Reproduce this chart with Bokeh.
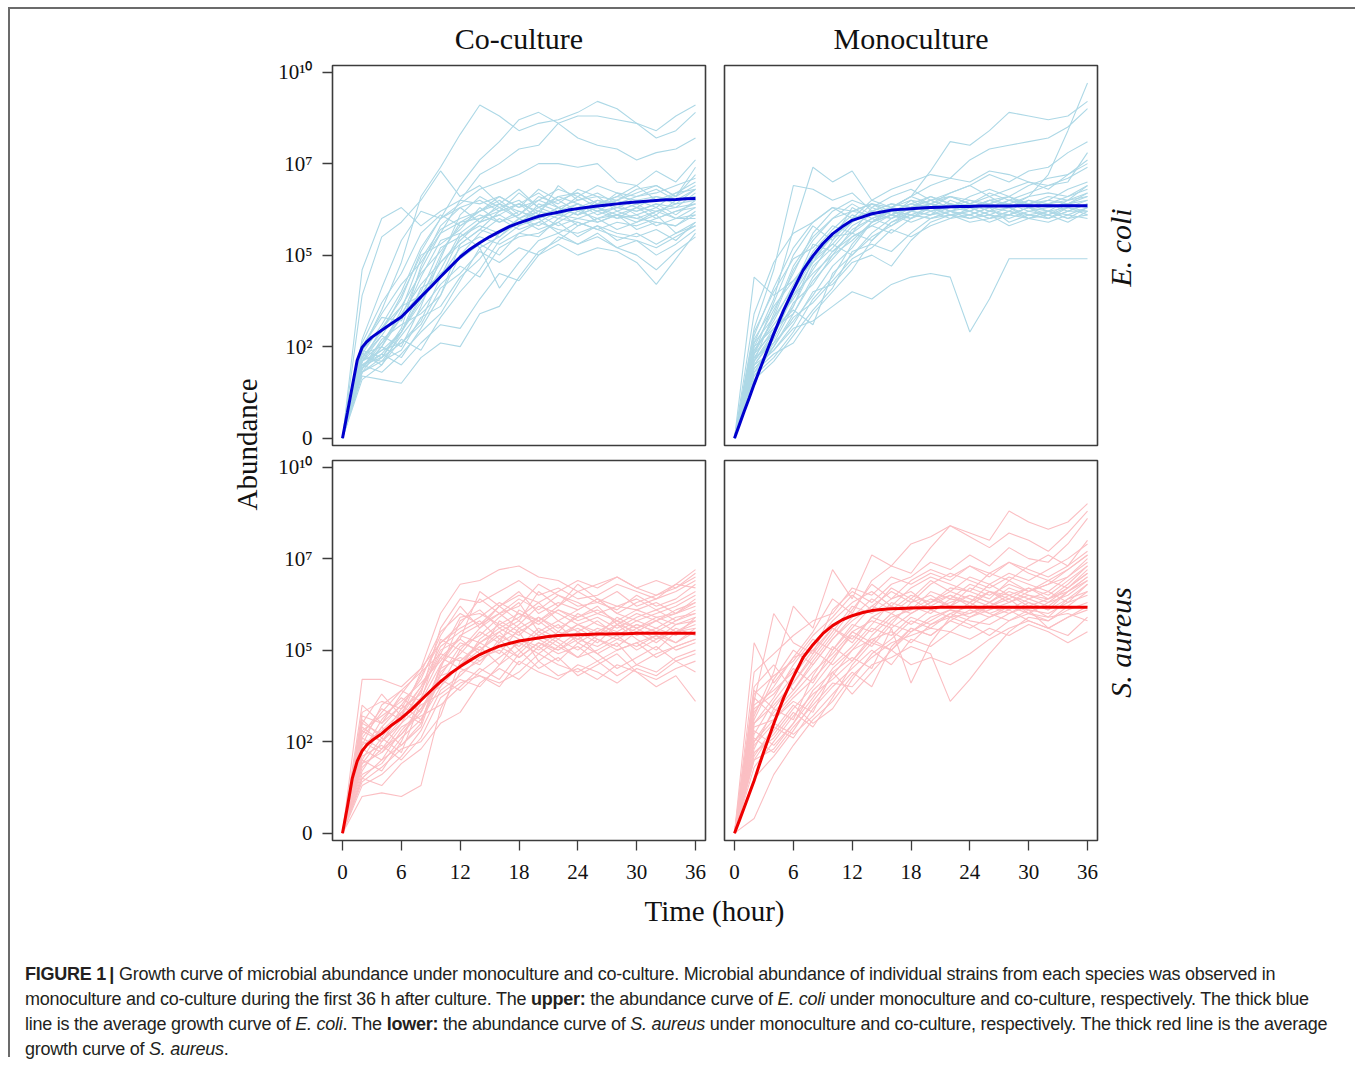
import math
from bokeh.plotting import figure
from bokeh.models import Range1d, FixedTicker, Div
from bokeh.layouts import row, column
from bokeh.embed import file_html
from bokeh.resources import INLINE
from bokeh.core.properties import value

# ---------------- data (log10 abundance units) ----------------
HOURS = [0, 2, 4, 6, 8, 10, 12, 14, 16, 18, 20, 22, 24, 26, 28, 30, 32, 34, 36]
MEAN_HOURS = [0, 0.5, 1, 1.5, 2, 2.5, 3, 4, 5, 6, 7, 8, 9, 10, 11, 12, 13, 14, 15, 16,
              17, 18, 19, 20, 21, 22, 23, 24, 25, 26, 27, 28, 29, 30, 31, 32, 33, 34, 35, 36]

Y_TICKS = [0, 2.5, 5, 7.5, 10]
Y_LABELS = ["0", "10\u00b2", "10\u2075", "10\u2077", "10\u00b9\u2070"]
X_TICKS = [0, 6, 12, 18, 24, 30, 36]

COLUMN_TITLES = ["Co-culture", "Monoculture"]
ROW_TITLES = ["E. coli", "S. aureus"]

ECOLI_CO_MEAN = [0, 0.70, 1.42, 2.13, 2.48, 2.64, 2.76, 2.95, 3.13, 3.31, 3.58, 3.86, 4.13, 4.41,
                 4.68, 4.95, 5.16, 5.34, 5.50, 5.64, 5.78, 5.88, 5.97, 6.06, 6.12, 6.17, 6.23,
                 6.27, 6.31, 6.34, 6.37, 6.40, 6.43, 6.45, 6.47, 6.49, 6.51, 6.52, 6.54, 6.55]
ECOLI_MONO_MEAN = [0, 0.37, 0.74, 1.10, 1.47, 1.82, 2.17, 2.85, 3.49, 4.05, 4.59, 4.98, 5.31,
                   5.58, 5.78, 5.95, 6.04, 6.13, 6.18, 6.23, 6.25, 6.27, 6.29, 6.30, 6.31, 6.32,
                   6.33, 6.33, 6.34, 6.34, 6.34, 6.34, 6.35, 6.35, 6.35, 6.35, 6.35, 6.35, 6.35, 6.35]
SAUREUS_CO_MEAN = [0, 0.72, 1.50, 1.97, 2.25, 2.42, 2.53, 2.72, 2.95, 3.14, 3.37, 3.63, 3.89,
                   4.14, 4.36, 4.55, 4.72, 4.88, 5.00, 5.11, 5.18, 5.25, 5.29, 5.33, 5.37, 5.40,
                   5.41, 5.42, 5.43, 5.44, 5.44, 5.45, 5.45, 5.46, 5.46, 5.46, 5.46, 5.46, 5.46, 5.46]
SAUREUS_MONO_MEAN = [0, 0.35, 0.71, 1.07, 1.43, 1.84, 2.24, 2.99, 3.69, 4.27, 4.80, 5.15, 5.45,
                     5.67, 5.83, 5.94, 6.02, 6.08, 6.11, 6.13, 6.14, 6.15, 6.16, 6.16, 6.17, 6.17,
                     6.17, 6.17, 6.17, 6.17, 6.17, 6.17, 6.17, 6.17, 6.17, 6.17, 6.17, 6.17, 6.17, 6.17]

ECOLI_CO = [
    [0, 4.6, 6.0, 6.3, 5.8, 6.2, 6.5, 6.4, 6.6, 6.3, 6.8, 6.5, 6.7, 6.4, 6.6, 6.9, 6.5, 6.7, 6.8],
    [0, 2.4, 3.5, 4.8, 6.6, 7.4, 8.3, 9.1, 8.8, 8.4, 8.6, 8.7, 8.9, 9.2, 9.0, 8.6, 8.4, 8.8, 9.1],
    [0, 2.1, 3.0, 3.8, 5.1, 6.0, 6.9, 7.6, 8.1, 8.7, 8.9, 8.6, 8.8, 8.8, 8.7, 8.6, 8.2, 8.4, 8.9],
    [0, 1.9, 2.6, 3.3, 4.6, 5.6, 6.5, 7.2, 7.5, 7.9, 8.0, 8.6, 8.2, 8.0, 7.9, 7.6, 7.8, 7.9, 8.2],
    [0, 2.3, 3.1, 4.0, 5.2, 6.0, 6.4, 6.8, 7.0, 7.2, 7.5, 7.5, 7.4, 7.5, 7.0, 6.9, 7.3, 7.0, 7.6],
    [0, 2.0, 2.4, 2.9, 3.8, 5.0, 5.9, 6.2, 6.5, 6.1, 6.6, 6.4, 6.8, 6.6, 6.5, 6.7, 6.9, 6.6, 7.4],
    [0, 2.5, 3.3, 3.2, 4.4, 5.4, 5.6, 6.0, 6.2, 6.7, 6.3, 6.5, 6.2, 6.4, 6.6, 6.5, 6.3, 6.7, 7.0],
    [0, 1.8, 2.2, 2.6, 3.2, 4.4, 5.5, 5.9, 6.4, 6.0, 6.3, 6.1, 6.4, 6.2, 6.5, 6.3, 6.6, 6.4, 6.8],
    [0, 2.2, 2.8, 2.5, 3.6, 4.9, 6.1, 6.6, 6.3, 6.5, 6.1, 6.9, 6.5, 6.6, 6.2, 6.4, 6.1, 6.5, 6.6],
    [0, 2.0, 1.8, 2.3, 2.9, 3.4, 4.3, 5.2, 5.5, 5.9, 6.2, 6.0, 6.3, 5.9, 6.1, 6.0, 5.9, 5.8, 6.2],
    [0, 2.6, 3.7, 4.5, 5.6, 6.1, 5.8, 6.2, 6.4, 6.2, 6.0, 6.3, 6.1, 6.5, 6.3, 6.2, 6.4, 6.1, 6.5],
    [0, 1.9, 2.5, 2.2, 3.0, 3.9, 5.0, 5.6, 6.0, 5.7, 5.9, 6.2, 5.8, 6.0, 5.7, 5.9, 6.1, 5.6, 5.9],
    [0, 2.3, 2.0, 2.7, 2.4, 3.3, 4.0, 4.6, 5.4, 5.8, 6.0, 5.6, 5.9, 5.7, 5.5, 5.4, 5.2, 5.5, 5.8],
    [0, 1.7, 1.6, 1.5, 2.2, 2.6, 2.5, 3.4, 3.6, 4.4, 5.1, 5.4, 5.8, 6.0, 6.1, 5.9, 6.2, 6.0, 6.1],
    [0, 1.9, 2.3, 2.0, 2.6, 3.1, 3.0, 3.8, 4.5, 4.3, 5.0, 5.3, 5.0, 5.2, 5.1, 4.8, 4.2, 4.9, 5.6],
    [0, 2.1, 2.6, 3.4, 4.2, 4.8, 5.4, 5.9, 6.1, 5.8, 6.4, 6.2, 6.6, 6.3, 6.7, 6.4, 6.5, 6.6, 6.9],
    [0, 2.4, 3.0, 3.6, 3.9, 4.5, 4.9, 5.3, 5.0, 5.6, 5.5, 6.0, 5.9, 5.7, 5.9, 5.8, 6.0, 6.2, 6.3],
    [0, 2.0, 2.2, 3.0, 4.7, 5.8, 6.3, 5.9, 6.1, 6.4, 6.2, 6.6, 6.4, 6.1, 6.3, 6.2, 6.4, 6.3, 6.7],
    [0, 2.2, 2.9, 3.9, 5.0, 5.3, 5.7, 6.3, 5.9, 6.1, 6.5, 6.3, 6.1, 6.3, 6.0, 6.3, 6.0, 6.2, 6.4],
    [0, 1.8, 2.1, 2.8, 3.5, 4.2, 4.7, 4.4, 5.2, 5.5, 5.6, 5.9, 5.5, 5.8, 5.6, 5.5, 5.7, 5.4, 5.9],
    [0, 2.7, 4.1, 5.4, 6.2, 6.0, 6.3, 6.5, 6.2, 6.4, 6.7, 6.3, 6.5, 6.7, 6.4, 6.6, 6.8, 6.5, 6.6],
    [0, 2.1, 2.4, 2.6, 3.1, 4.1, 4.5, 5.1, 4.8, 5.2, 5.0, 5.5, 5.3, 5.6, 5.2, 5.4, 5.0, 5.3, 5.7],
    [0, 1.9, 2.7, 3.1, 3.4, 3.9, 5.3, 5.7, 5.5, 6.0, 5.8, 6.1, 6.0, 6.2, 6.0, 6.1, 5.8, 6.0, 6.0],
    [0, 2.3, 2.5, 3.5, 4.9, 5.7, 6.0, 6.2, 6.6, 6.3, 6.5, 6.8, 6.6, 6.9, 6.7, 6.6, 6.7, 6.9, 7.1],
    [0, 2.0, 2.3, 2.9, 3.7, 4.6, 5.6, 5.2, 4.1, 4.8, 5.4, 5.6, 5.3, 5.5, 5.2, 5.0, 4.6, 5.1, 5.5],
    [0, 2.2, 2.1, 2.4, 3.3, 3.6, 4.4, 4.9, 5.6, 6.0, 5.7, 5.9, 6.2, 6.0, 6.2, 6.0, 6.2, 6.3, 6.4],
    [0, 2.5, 3.4, 4.2, 4.8, 5.6, 5.9, 6.0, 6.3, 6.0, 6.2, 6.1, 6.3, 6.5, 6.4, 6.1, 6.3, 6.0, 6.3],
    [0, 1.8, 2.5, 3.3, 4.0, 5.2, 5.5, 5.8, 5.6, 5.9, 6.1, 5.8, 6.0, 5.9, 6.1, 5.7, 5.9, 5.8, 6.1],
    [0, 2.1, 2.8, 3.6, 4.5, 5.1, 5.8, 6.1, 5.9, 6.2, 6.0, 6.2, 6.4, 6.2, 6.3, 6.5, 6.6, 6.5, 6.8],
    [0, 2.4, 2.2, 2.9, 4.1, 4.4, 5.2, 5.5, 5.3, 5.6, 5.9, 5.7, 5.6, 5.8, 5.4, 5.6, 5.3, 5.6, 5.8],
    [0, 3.9, 5.5, 5.9, 6.5, 7.3, 6.6, 6.9, 6.4, 6.8, 6.3, 6.6, 6.7, 6.4, 6.5, 6.8, 6.9, 6.6, 7.2],
    [0, 1.6, 2.0, 2.9, 3.9, 4.8, 5.3, 5.7, 6.2, 6.4, 6.0, 6.3, 6.1, 6.3, 6.1, 6.3, 6.2, 6.4, 6.5],
]

ECOLI_MONO = [
    [0, 3.0, 4.6, 6.9, 6.8, 6.5, 6.7, 6.2, 6.4, 6.3, 6.6, 6.4, 6.2, 6.5, 6.3, 6.4, 6.2, 6.5, 6.6],
    [0, 2.6, 3.8, 5.7, 7.4, 7.0, 7.3, 6.5, 6.3, 6.6, 6.4, 6.6, 6.5, 6.4, 6.6, 6.3, 6.5, 6.4, 6.7],
    [0, 2.3, 3.3, 4.6, 5.4, 6.0, 6.2, 6.4, 6.3, 6.6, 7.3, 8.1, 8.0, 8.4, 8.9, 8.8, 8.7, 8.8, 9.2],
    [0, 2.1, 2.8, 3.9, 4.8, 5.6, 6.1, 5.9, 6.2, 6.4, 6.3, 6.1, 6.2, 6.4, 6.3, 6.6, 7.2, 8.4, 9.7],
    [0, 2.8, 4.1, 5.2, 5.9, 6.3, 6.0, 6.5, 6.8, 7.0, 7.2, 7.1, 7.6, 7.9, 8.0, 8.1, 8.2, 8.5, 9.0],
    [0, 1.9, 2.5, 3.4, 4.4, 5.1, 5.5, 5.8, 6.1, 6.0, 6.4, 6.7, 6.9, 7.2, 7.0, 7.3, 7.4, 7.8, 8.1],
    [0, 2.0, 2.4, 3.0, 3.2, 3.6, 4.0, 3.8, 4.2, 4.4, 4.5, 4.4, 2.9, 3.8, 4.9, 4.9, 4.9, 4.9, 4.9],
    [0, 2.4, 3.2, 4.2, 5.1, 5.7, 6.2, 6.1, 6.3, 6.2, 6.4, 6.3, 6.5, 6.3, 6.4, 6.2, 6.3, 6.4, 6.5],
    [0, 1.7, 2.2, 2.9, 3.8, 4.4, 5.3, 5.9, 6.1, 6.3, 6.2, 6.4, 6.3, 6.5, 6.6, 6.4, 6.5, 6.8, 7.0],
    [0, 2.2, 3.0, 3.5, 3.1, 4.5, 5.0, 5.6, 6.0, 6.3, 6.4, 6.2, 6.1, 6.3, 6.2, 6.5, 6.3, 6.4, 6.3],
    [0, 3.4, 4.8, 5.6, 5.9, 6.3, 6.2, 6.4, 6.1, 6.3, 6.5, 6.3, 6.4, 6.2, 6.1, 6.3, 6.4, 6.2, 6.4],
    [0, 2.0, 2.7, 3.7, 4.2, 5.0, 5.7, 6.0, 5.8, 6.1, 6.0, 6.2, 6.0, 6.1, 5.8, 6.0, 6.1, 5.9, 6.2],
    [0, 2.5, 3.5, 4.5, 5.6, 6.2, 6.5, 6.3, 6.6, 6.8, 6.5, 6.7, 6.9, 6.6, 6.8, 7.0, 6.9, 7.1, 7.4],
    [0, 1.8, 2.3, 2.6, 3.4, 4.0, 4.6, 5.4, 5.9, 6.2, 6.1, 6.3, 6.2, 6.0, 6.2, 6.1, 6.2, 6.3, 6.2],
    [0, 2.9, 4.0, 4.9, 5.2, 5.8, 5.6, 6.0, 6.2, 6.1, 6.3, 6.6, 6.4, 6.2, 6.5, 6.3, 6.1, 6.4, 6.6],
    [0, 2.3, 2.9, 3.6, 4.9, 5.3, 5.0, 5.5, 5.8, 6.2, 6.4, 6.2, 6.3, 6.1, 6.3, 6.0, 6.2, 6.1, 6.3],
    [0, 2.1, 3.4, 4.7, 5.5, 6.0, 6.4, 6.1, 6.3, 6.5, 6.2, 6.3, 6.6, 6.8, 6.6, 6.9, 7.1, 7.2, 7.6],
    [0, 1.6, 2.1, 2.8, 3.5, 4.1, 5.1, 5.3, 5.1, 5.6, 6.0, 6.1, 5.9, 6.0, 6.2, 6.0, 5.9, 6.1, 6.0],
    [0, 2.7, 3.6, 4.3, 5.0, 5.5, 5.9, 6.4, 6.2, 6.4, 6.6, 6.4, 6.3, 6.5, 6.4, 6.6, 6.7, 6.6, 6.9],
    [0, 2.2, 2.6, 3.2, 3.9, 4.7, 5.2, 5.9, 6.1, 5.9, 6.1, 6.2, 6.0, 6.2, 6.3, 6.1, 6.0, 6.3, 6.1],
    [0, 4.4, 3.9, 4.3, 4.8, 5.3, 5.9, 6.2, 6.0, 6.3, 6.5, 6.3, 6.4, 6.6, 6.3, 6.5, 6.4, 6.6, 6.8],
    [0, 1.9, 2.4, 3.1, 4.0, 4.2, 4.8, 5.0, 4.7, 5.4, 5.9, 6.1, 6.0, 6.2, 6.1, 6.3, 6.2, 6.0, 6.3],
    [0, 2.4, 3.1, 3.8, 4.6, 5.4, 6.0, 6.2, 6.4, 6.3, 6.5, 6.6, 6.4, 6.7, 6.5, 6.7, 6.9, 7.0, 7.8],
    [0, 2.0, 2.8, 4.0, 4.9, 5.5, 5.6, 5.4, 5.9, 6.1, 6.0, 6.2, 6.1, 6.3, 5.9, 6.1, 6.0, 6.2, 6.4],
    [0, 2.6, 3.3, 4.1, 5.3, 5.1, 5.6, 6.3, 6.1, 6.5, 6.4, 6.2, 6.4, 6.3, 6.5, 6.4, 6.6, 6.5, 6.7],
    [0, 1.7, 2.5, 3.3, 3.7, 4.3, 4.9, 5.2, 5.7, 5.5, 5.8, 6.0, 6.3, 6.1, 6.0, 6.2, 6.1, 6.3, 6.5],
    [0, 2.3, 3.7, 5.0, 5.8, 5.4, 6.3, 6.0, 6.2, 6.0, 6.3, 6.1, 6.2, 6.0, 6.1, 6.3, 6.0, 6.2, 6.2],
    [0, 2.1, 2.9, 3.9, 4.5, 5.0, 5.4, 5.9, 6.3, 6.6, 6.9, 7.1, 7.0, 7.3, 7.2, 7.0, 6.8, 7.2, 7.5],
    [0, 2.5, 3.0, 3.4, 4.3, 4.9, 5.5, 5.8, 5.6, 6.0, 6.2, 6.0, 6.1, 5.9, 6.1, 6.0, 6.2, 6.0, 6.1],
    [0, 1.8, 2.6, 3.6, 4.7, 5.2, 5.8, 6.1, 6.0, 6.2, 6.1, 6.5, 6.3, 6.4, 6.6, 6.3, 6.4, 6.5, 6.9],
]

SAUREUS_CO = [
    [0, 4.2, 4.2, 4.0, 4.5, 5.2, 5.6, 5.9, 6.3, 6.0, 5.8, 6.1, 5.9, 6.2, 5.7, 6.0, 5.8, 6.1, 6.3],
    [0, 3.5, 3.0, 3.8, 4.5, 6.0, 6.8, 6.9, 7.2, 7.3, 7.0, 6.9, 6.6, 6.8, 7.0, 6.7, 6.5, 6.8, 7.2],
    [0, 1.0, 1.1, 1.0, 1.3, 3.4, 4.4, 4.7, 5.1, 4.8, 5.2, 5.0, 5.3, 5.1, 5.4, 5.0, 5.3, 5.5, 5.6],
    [0, 2.4, 2.8, 3.3, 3.0, 4.6, 5.2, 5.0, 5.5, 5.8, 5.4, 5.7, 5.2, 5.5, 5.8, 5.4, 5.6, 5.9, 6.0],
    [0, 1.8, 2.3, 2.7, 3.4, 4.1, 4.6, 5.2, 4.9, 5.6, 5.3, 5.0, 5.4, 4.9, 5.2, 4.6, 4.9, 5.1, 5.3],
    [0, 3.2, 3.0, 3.5, 4.2, 5.4, 6.2, 5.6, 6.0, 6.4, 6.1, 6.5, 6.3, 6.0, 6.2, 6.4, 6.1, 6.3, 6.6],
    [0, 2.0, 1.7, 2.5, 3.7, 4.8, 4.5, 5.3, 5.7, 5.4, 5.9, 5.5, 6.0, 5.7, 5.5, 5.8, 5.6, 5.4, 5.9],
    [0, 2.7, 3.4, 3.1, 3.9, 5.0, 5.3, 4.9, 5.8, 5.5, 4.7, 5.1, 4.8, 5.3, 5.0, 5.2, 5.4, 5.0, 5.2],
    [0, 1.5, 2.0, 2.4, 2.9, 4.4, 4.9, 5.5, 5.2, 6.1, 5.8, 6.2, 6.6, 6.3, 6.1, 6.5, 6.2, 6.4, 6.8],
    [0, 2.9, 2.5, 3.0, 3.5, 3.8, 4.2, 4.0, 4.6, 5.0, 4.5, 4.8, 4.3, 4.6, 4.9, 4.4, 4.0, 4.3, 3.6],
    [0, 2.2, 3.1, 3.7, 3.3, 4.5, 5.8, 6.1, 5.6, 5.9, 6.3, 5.8, 6.1, 6.4, 6.0, 5.8, 6.0, 6.2, 6.5],
    [0, 1.3, 1.6, 2.1, 2.8, 3.9, 4.3, 4.8, 5.0, 4.6, 5.1, 4.7, 5.2, 4.9, 4.5, 4.8, 5.1, 4.7, 4.9],
    [0, 3.0, 2.7, 3.2, 4.0, 5.1, 5.5, 5.8, 5.3, 5.7, 6.2, 6.0, 5.7, 5.9, 5.6, 5.9, 6.1, 5.8, 6.1],
    [0, 2.5, 2.2, 2.9, 3.2, 3.5, 4.0, 4.5, 4.2, 4.9, 5.4, 5.1, 5.5, 5.2, 5.7, 5.3, 5.0, 5.5, 5.7],
    [0, 1.9, 2.6, 2.2, 3.6, 5.3, 5.0, 5.6, 6.2, 5.8, 6.6, 6.2, 6.8, 6.4, 6.0, 6.3, 6.5, 6.7, 7.0],
    [0, 2.6, 3.3, 3.9, 4.4, 4.9, 4.7, 5.1, 4.6, 5.3, 5.0, 5.4, 5.6, 5.3, 5.1, 5.5, 5.2, 5.6, 5.4],
    [0, 1.6, 1.9, 2.6, 3.1, 4.2, 3.9, 4.4, 4.8, 5.2, 4.9, 5.3, 5.0, 5.4, 5.7, 5.5, 5.8, 6.0, 6.2],
    [0, 3.3, 3.6, 3.4, 3.8, 5.6, 6.4, 6.3, 6.6, 6.9, 6.5, 6.7, 6.4, 6.5, 6.8, 6.6, 6.4, 6.6, 6.9],
    [0, 2.1, 2.4, 2.0, 2.6, 3.7, 4.1, 4.3, 4.0, 4.7, 4.4, 4.2, 4.6, 4.4, 4.1, 4.5, 4.3, 4.7, 4.4],
    [0, 2.8, 3.2, 3.6, 4.1, 4.7, 5.4, 5.7, 6.0, 5.6, 5.9, 5.6, 5.9, 6.1, 5.8, 6.1, 5.9, 6.0, 6.4],
    [0, 2.3, 2.0, 2.8, 3.4, 4.3, 5.1, 5.4, 5.9, 6.3, 5.5, 5.8, 5.5, 5.8, 5.4, 5.7, 5.5, 5.8, 6.0],
    [0, 1.7, 2.5, 3.1, 3.7, 4.0, 4.6, 5.0, 5.4, 5.1, 5.6, 5.3, 5.7, 5.5, 5.3, 5.6, 5.8, 5.5, 5.8],
    [0, 3.1, 2.6, 3.4, 4.3, 5.2, 5.7, 6.4, 6.0, 6.2, 6.8, 6.5, 6.2, 6.3, 6.6, 6.2, 6.4, 6.8, 6.7],
    [0, 2.0, 2.9, 2.4, 3.0, 4.5, 4.8, 4.6, 5.3, 4.8, 5.2, 4.9, 5.1, 4.7, 5.0, 5.2, 4.8, 5.1, 5.3],
    [0, 2.6, 2.3, 3.0, 3.9, 4.9, 5.9, 6.0, 5.7, 6.0, 5.7, 6.1, 5.8, 6.0, 5.8, 5.6, 5.9, 5.7, 5.9],
    [0, 1.4, 1.8, 2.3, 2.5, 3.2, 4.7, 5.2, 5.5, 5.0, 5.5, 5.2, 4.8, 5.0, 5.3, 5.1, 5.4, 5.2, 5.5],
    [0, 2.4, 3.5, 3.9, 3.6, 4.6, 5.4, 5.2, 5.6, 5.3, 5.1, 5.5, 5.3, 5.6, 5.4, 5.7, 5.5, 5.2, 5.6],
    [0, 1.9, 2.2, 2.7, 3.3, 4.3, 4.5, 4.3, 4.1, 4.4, 4.9, 4.6, 4.4, 4.7, 4.3, 4.6, 4.4, 4.8, 5.0],
    [0, 2.8, 2.5, 3.3, 4.0, 4.8, 5.3, 6.6, 6.2, 6.5, 6.3, 6.6, 6.9, 6.7, 7.0, 6.7, 6.9, 6.7, 7.1],
    [0, 2.2, 2.9, 3.5, 3.1, 4.0, 5.0, 4.7, 5.2, 5.5, 5.8, 5.4, 5.7, 5.4, 5.9, 5.6, 5.3, 5.7, 5.8],
    [0, 3.0, 3.8, 3.2, 4.4, 5.5, 6.0, 5.7, 6.2, 6.6, 6.0, 6.3, 6.1, 6.4, 6.2, 6.1, 6.3, 6.0, 6.3],
    [0, 1.5, 1.3, 1.9, 2.3, 3.0, 3.3, 4.1, 4.5, 4.2, 4.7, 4.3, 4.5, 4.2, 4.6, 4.4, 4.2, 4.5, 4.7],
]

SAUREUS_MONO = [
    [0, 5.2, 4.1, 4.8, 5.0, 5.6, 5.3, 5.9, 6.2, 6.0, 6.3, 6.5, 6.2, 6.6, 6.4, 6.7, 6.5, 6.9, 7.3],
    [0, 3.6, 6.0, 5.2, 4.9, 6.1, 6.6, 6.3, 6.8, 7.0, 7.4, 7.2, 7.6, 7.3, 7.8, 7.5, 7.4, 7.9, 8.6],
    [0, 0.4, 1.6, 2.4, 3.1, 3.6, 4.3, 4.8, 5.2, 5.4, 5.6, 5.5, 5.9, 6.1, 6.3, 6.5, 6.4, 6.6, 7.0],
    [0, 3.2, 4.4, 6.2, 5.6, 7.2, 6.4, 7.6, 7.3, 7.9, 8.1, 8.4, 8.2, 8.0, 8.8, 8.5, 8.3, 8.5, 9.0],
    [0, 2.5, 3.3, 3.9, 4.6, 5.3, 5.9, 6.4, 6.1, 6.5, 6.3, 6.7, 6.6, 6.4, 6.9, 6.6, 6.8, 7.0, 7.4],
    [0, 2.9, 3.1, 3.6, 3.3, 4.4, 4.8, 4.5, 5.6, 4.1, 5.2, 5.9, 6.0, 6.3, 6.1, 6.4, 6.6, 6.3, 6.8],
    [0, 2.2, 2.7, 3.4, 4.0, 4.7, 5.5, 5.2, 5.8, 6.2, 6.0, 6.4, 6.3, 6.6, 6.5, 6.2, 6.4, 6.7, 7.1],
    [0, 3.8, 4.3, 4.7, 5.4, 5.9, 6.5, 6.1, 6.7, 6.4, 6.9, 6.6, 7.0, 6.8, 7.1, 6.9, 7.2, 7.5, 7.9],
    [0, 2.6, 2.2, 2.9, 3.5, 4.1, 4.0, 4.6, 4.8, 5.1, 4.9, 3.6, 4.2, 4.9, 5.5, 5.9, 5.8, 6.2, 6.6],
    [0, 3.4, 3.8, 4.5, 4.1, 5.0, 5.7, 5.5, 6.0, 5.7, 6.1, 5.9, 6.3, 6.0, 6.2, 6.1, 6.0, 6.3, 6.5],
    [0, 1.8, 2.5, 3.2, 3.8, 4.2, 4.7, 5.3, 5.0, 5.5, 5.8, 6.1, 5.9, 6.2, 6.4, 6.0, 6.3, 6.5, 6.9],
    [0, 4.0, 4.6, 3.9, 4.7, 5.4, 6.1, 6.8, 6.4, 6.9, 7.2, 7.0, 7.3, 7.1, 7.4, 7.2, 7.0, 7.3, 7.7],
    [0, 2.4, 3.0, 2.7, 3.2, 3.8, 4.4, 4.0, 5.1, 5.6, 5.4, 5.8, 6.1, 5.9, 6.2, 6.0, 5.8, 6.1, 6.3],
    [0, 3.0, 3.5, 4.1, 4.9, 5.6, 5.2, 5.9, 5.7, 6.3, 6.5, 6.2, 6.7, 6.5, 6.8, 6.6, 6.9, 6.7, 7.2],
    [0, 2.0, 2.8, 3.5, 3.0, 3.4, 4.2, 4.9, 5.3, 5.8, 5.6, 6.0, 5.8, 5.7, 6.0, 6.2, 5.9, 6.4, 6.8],
    [0, 3.5, 3.9, 4.4, 5.1, 5.8, 6.3, 6.6, 6.2, 6.7, 7.0, 6.8, 6.6, 7.1, 6.9, 7.3, 7.6, 7.3, 8.0],
    [0, 2.8, 2.4, 3.0, 3.7, 4.5, 5.0, 5.6, 5.4, 5.9, 5.7, 6.0, 6.2, 6.0, 5.8, 6.1, 5.6, 5.9, 6.2],
    [0, 3.1, 4.2, 5.0, 4.6, 5.3, 5.8, 6.2, 6.6, 6.3, 6.8, 7.1, 6.9, 6.7, 7.0, 6.8, 6.6, 7.0, 7.5],
    [0, 2.3, 3.4, 3.1, 4.3, 5.1, 4.7, 5.4, 5.9, 6.1, 6.4, 6.2, 6.5, 6.3, 6.6, 6.4, 6.2, 6.6, 6.9],
    [0, 3.7, 3.2, 3.8, 4.4, 4.9, 5.5, 5.8, 5.6, 6.0, 6.3, 6.6, 6.4, 6.2, 6.5, 6.3, 6.1, 6.4, 6.6],
    [0, 2.1, 2.9, 2.6, 3.4, 4.0, 4.5, 5.0, 4.6, 5.3, 5.1, 5.5, 5.3, 5.6, 5.4, 5.7, 5.5, 5.2, 5.5],
    [0, 3.3, 4.0, 4.8, 5.5, 6.4, 6.0, 6.9, 7.3, 7.1, 7.8, 8.4, 8.1, 7.8, 8.2, 8.0, 7.7, 8.2, 8.8],
    [0, 2.7, 3.6, 4.3, 5.0, 4.6, 5.1, 5.7, 6.3, 6.1, 6.6, 6.4, 6.8, 6.6, 6.3, 6.6, 6.8, 7.2, 7.6],
    [0, 1.5, 2.1, 2.8, 3.6, 4.3, 5.0, 5.3, 5.5, 5.2, 5.7, 5.9, 5.7, 5.4, 5.8, 6.0, 5.9, 6.0, 5.8],
    [0, 3.9, 3.4, 4.1, 4.8, 5.5, 6.2, 6.0, 6.4, 6.6, 6.2, 6.5, 6.3, 6.8, 6.5, 6.7, 6.4, 6.8, 7.3],
    [0, 2.5, 3.1, 3.7, 4.2, 4.8, 5.4, 5.1, 5.7, 5.5, 5.9, 6.1, 6.0, 6.2, 6.0, 6.3, 6.1, 6.6, 7.0],
    [0, 3.0, 3.7, 4.6, 5.3, 5.0, 5.6, 6.2, 6.0, 6.4, 6.1, 6.3, 6.5, 6.3, 6.7, 6.5, 6.3, 6.7, 7.1],
    [0, 2.2, 2.6, 3.3, 2.9, 3.7, 4.6, 5.2, 5.0, 5.6, 5.4, 5.8, 5.6, 5.9, 6.1, 5.8, 5.6, 5.9, 6.1],
    [0, 4.4, 4.9, 5.4, 5.8, 6.0, 6.7, 6.5, 7.0, 6.8, 7.1, 6.9, 7.3, 7.0, 7.4, 7.1, 6.9, 7.2, 7.6],
    [0, 2.0, 2.3, 3.0, 3.9, 4.4, 3.8, 4.4, 5.0, 4.6, 4.8, 4.6, 4.9, 5.3, 5.6, 5.8, 5.6, 5.4, 5.9],
]

# ---------------- styling ----------------
SERIF = "Liberation Serif"
BLUE_THIN, BLUE_MEAN = "#ADD8E6", "#0000CD"
RED_THIN, RED_MEAN = "#FBBFC3", "#EE0000"
FRAME = "#3c3c3c"

L_W, R_W = 453, 390           # left / right panel figure widths
TOP_H, BOT_H = 443, 442       # top / bottom panel figure heights


def style_axis(ax):
    ax.axis_line_color = None
    ax.major_tick_out = 10
    ax.major_tick_in = 0
    ax.minor_tick_out = 0
    ax.minor_tick_in = 0
    ax.major_tick_line_color = FRAME
    ax.major_tick_line_width = 1.3
    ax.major_label_text_font = SERIF
    ax.major_label_text_font_size = "21px"
    ax.major_label_text_color = "#111111"


def panel(strains, mean, thin, thick, left, bottom, title, width, height, mb):
    p = figure(width=width, height=height, title=title,
               x_range=Range1d(-1.02, 37.02), y_range=Range1d(-0.2, 10.18),
               output_backend="svg", toolbar_location=None,
               x_axis_location="below" if bottom else None,
               y_axis_location="left" if left else None,
               min_border_left=mb[0], min_border_right=mb[1],
               min_border_top=mb[2], min_border_bottom=mb[3])
    p.grid.visible = False
    p.outline_line_color = FRAME
    p.outline_line_width = 1.6
    p.background_fill_color = "white"
    p.border_fill_color = "white"
    if title:
        p.title.text_font = SERIF
        p.title.text_font_size = "30px"
        p.title.text_font_style = "normal"
        p.title.align = "center"
        p.title.text_color = "#111111"
        p.title.standoff = 21
    p.multi_line(xs=[HOURS[:len(s)] for s in strains], ys=strains,
                 line_color=thin, line_width=1.1)
    p.line(MEAN_HOURS, mean, line_color=thick, line_width=3)
    if left:
        ax = p.yaxis[0]
        style_axis(ax)
        ax.ticker = FixedTicker(ticks=Y_TICKS)
        ax.major_label_overrides = dict(zip(Y_TICKS, Y_LABELS))
        ax.major_label_standoff = 10
    if bottom:
        ax = p.xaxis[0]
        style_axis(ax)
        ax.ticker = FixedTicker(ticks=X_TICKS)
        ax.major_label_standoff = 14
    return p


tl = panel(ECOLI_CO, ECOLI_CO_MEAN, BLUE_THIN, BLUE_MEAN, True, False, COLUMN_TITLES[0],
           L_W, TOP_H, (70, 10, 56, 7))
tr = panel(ECOLI_MONO, ECOLI_MONO_MEAN, BLUE_THIN, BLUE_MEAN, False, False, COLUMN_TITLES[1],
           R_W, TOP_H, (9, 8, 56, 7))
bl = panel(SAUREUS_CO, SAUREUS_CO_MEAN, RED_THIN, RED_MEAN, True, True, None,
           L_W, BOT_H, (70, 10, 8, 54))
br = panel(SAUREUS_MONO, SAUREUS_MONO_MEAN, RED_THIN, RED_MEAN, False, True, None,
           R_W, BOT_H, (9, 8, 8, 54))


def text_canvas(width, height):
    f = figure(width=width, height=height, x_range=Range1d(0, width), y_range=Range1d(height, 0),
               output_backend="svg", toolbar_location=None, min_border=0,
               x_axis_location=None, y_axis_location=None)
    f.grid.visible = False
    f.outline_line_color = None
    f.border_fill_color = "white"
    return f


TIME_H = 45
SIDE_H = TOP_H + BOT_H + TIME_H

left_fig = text_canvas(252, SIDE_H)
left_fig.text(x=[236], y=[435], text=["Abundance"], angle=math.pi / 2,
              text_font=value(SERIF), text_font_size="29px", text_color="#111111",
              text_align="center", text_baseline="middle")

right_fig = text_canvas(246, SIDE_H)
right_fig.text(x=[15, 15], y=[238, 633], text=ROW_TITLES, angle=math.pi / 2,
               text_font=value(SERIF), text_font_size="30px", text_font_style="italic",
               text_color="#111111", text_align="center", text_baseline="middle")

time_fig = text_canvas(L_W + R_W, TIME_H)
time_fig.text(x=[452], y=[16], text=["Time (hour)"], text_font=value(SERIF),
              text_font_size="29px", text_color="#111111",
              text_align="center", text_baseline="middle")

CAPTION = (
    "<b>FIGURE 1&thinsp;|</b> Growth curve of microbial abundance under monoculture and co-culture. "
    "Microbial abundance of individual strains from each species was observed in<br>"
    "monoculture and co-culture during the first 36 h after culture. The <b>upper:</b> the abundance "
    "curve of <i>E. coli</i> under monoculture and co-culture, respectively. The thick blue<br>"
    "line is the average growth curve of <i>E. coli</i>. The <b>lower:</b> the abundance curve of "
    "<i>S. aureus</i> under monoculture and co-culture, respectively. The thick red line is the average<br>"
    "growth curve of <i>S. aureus</i>."
)
caption = Div(
    text=("<div style=\"font-family:'Liberation Sans',Arial,sans-serif;font-size:18px;"
          "line-height:25px;color:#231f20;white-space:nowrap;padding:18px 0 0 10px;"
          "letter-spacing:-0.25px\">" + CAPTION + "</div>"),
    width=1341, height=108)

middle = column(row(tl, tr), row(bl, br), time_fig)
layout = column(row(left_fig, middle, right_fig), caption,
                styles={"margin-left": "8px", "margin-top": "7px",
                        "border-top": "2px solid #6b6b6b", "border-left": "2px solid #6b6b6b",
                        "border-right": "2px solid #6b6b6b"})

open("out.html", "w").write(file_html(layout, INLINE))
